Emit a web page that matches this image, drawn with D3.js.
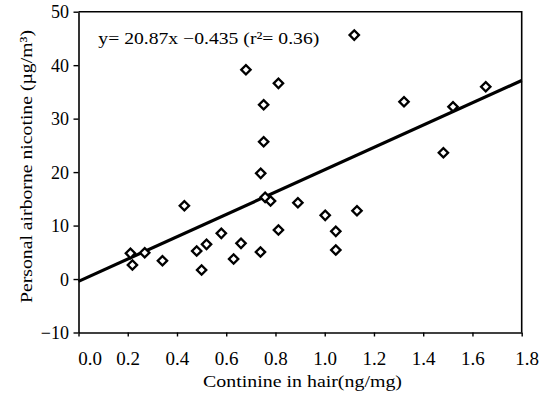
<!DOCTYPE html>
<html>
<head>
<meta charset="utf-8">
<script src="https://cdn.jsdelivr.net/npm/d3@7"></script>
<style>
  html, body { margin: 0; padding: 0; background: #fff; }
  svg { display: block; }
  text { font-family: "Liberation Serif", "Times New Roman", serif; fill: #000; }
</style>
</head>
<body>
<svg id="chart" width="552" height="398"></svg>
<script>
// ---- data ----
const hairCotinine = [0.211, 0.219, 0.269, 0.341, 0.430, 0.480, 0.520, 0.500, 0.580, 0.630,
                      0.660, 0.739, 0.758, 0.780, 0.812, 0.891, 1.002, 1.045, 1.045, 1.131,
                      1.120, 0.680, 0.812, 0.752, 0.752, 0.740, 1.322, 1.521, 1.482, 1.654];
const airNicotine  = [4.81, 2.62, 4.92, 3.42, 13.71, 5.24, 6.49, 1.68, 8.55, 3.74,
                      6.68, 5.05, 15.28, 14.59, 9.16, 14.27, 11.91, 8.92, 5.42, 12.77,
                      45.63, 39.14, 36.6, 32.6, 25.68, 19.77, 33.16, 32.22, 23.62, 35.96];
const regSlope = 20.87;
const regIntercept = -0.435;
const xTicks = [0.0, 0.2, 0.4, 0.6, 0.8, 1.0, 1.2, 1.4, 1.6, 1.8];
const yTicks = [-10, 0, 10, 20, 30, 40, 50];
const xTitle = "Continine in hair(ng/mg)";
const yTitle = "Personal airborne nicotine (\u00b5g/m\u00b3)";
const equationLabel = "y= 20.87x \u22120.435 (r\u00b2= 0.36)";

// ---- chart ----
const svg = d3.select("#chart");
svg.append("rect").attr("width", 552).attr("height", 398).attr("fill", "#fff");

const x = d3.scaleLinear().domain([0, 1.8]).range([78.5, 521.7]);
const y = d3.scaleLinear().domain([-10, 50]).range([332.5, 11.7]);

// frame (top & right)
svg.append("path")
  .attr("d", `M${x(0)},${y(50)}H${x(1.8)}V${y(-10)}`)
  .attr("fill", "none").attr("stroke", "#000").attr("stroke-width", 1.6);

// x axis
const gx = svg.append("g").attr("transform", `translate(0,${y(-10)})`)
  .call(d3.axisBottom(x).tickValues(xTicks).tickFormat(d3.format(".1f")).tickSize(4).tickSizeOuter(0));
gx.select(".domain").attr("stroke-width", 1.6);
gx.selectAll(".tick line").attr("stroke-width", 1.4);
gx.selectAll(".tick text")
  .attr("y", 32.5).attr("dy", 0)
  .attr("font-size", 19)
  .attr("font-family", "Liberation Serif")
  .attr("dx", d => d === 0 ? 11 : (d >= 1.8 ? 5 : 0));

// y axis
const gy = svg.append("g").attr("transform", `translate(${x(0)},0)`)
  .call(d3.axisLeft(y).tickValues(yTicks).tickFormat(d => d < 0 ? "\u2212" + Math.abs(d) : d).tickSize(5).tickSizeOuter(0));
gy.select(".domain").attr("stroke-width", 1.6);
gy.selectAll(".tick line").attr("stroke-width", 1.4);
gy.selectAll(".tick text")
  .attr("x", -9.5)
  .attr("dy", "0.34em")
  .attr("font-size", 18)
  .attr("font-family", "Liberation Serif");

// regression line
const regLine = d3.line().x(d => x(d)).y(d => y(regSlope * d + regIntercept));
svg.append("path")
  .datum([0, 1.8])
  .attr("d", regLine)
  .attr("fill", "none").attr("stroke", "#000").attr("stroke-width", 3.2);

// points (diamonds)
const pts = hairCotinine.map((v, i) => ({ x: v, y: airNicotine[i] }));
const diamond = d3.symbol().type(d3.symbolSquare).size(44);
svg.append("g").selectAll("path")
  .data(pts).join("path")
  .attr("d", diamond)
  .attr("transform", d => `translate(${x(d.x)},${y(d.y)}) rotate(45)`)
  .attr("fill", "#fff").attr("stroke", "#000").attr("stroke-width", 2.3);

// equation
svg.append("text")
  .attr("x", 98.3).attr("y", 43.5)
  .attr("font-size", 17)
  .attr("textLength", 221).attr("lengthAdjust", "spacingAndGlyphs")
  .text(equationLabel);

// axis titles
svg.append("text")
  .attr("x", 302.5).attr("y", 387)
  .attr("text-anchor", "middle")
  .attr("font-size", 17)
  .attr("textLength", 199).attr("lengthAdjust", "spacingAndGlyphs")
  .text(xTitle);

svg.append("text")
  .attr("transform", "translate(32,166.5) rotate(-90)")
  .attr("text-anchor", "middle")
  .attr("font-size", 17)
  .attr("textLength", 273).attr("lengthAdjust", "spacingAndGlyphs")
  .text(yTitle);
</script>
</body>
</html>
